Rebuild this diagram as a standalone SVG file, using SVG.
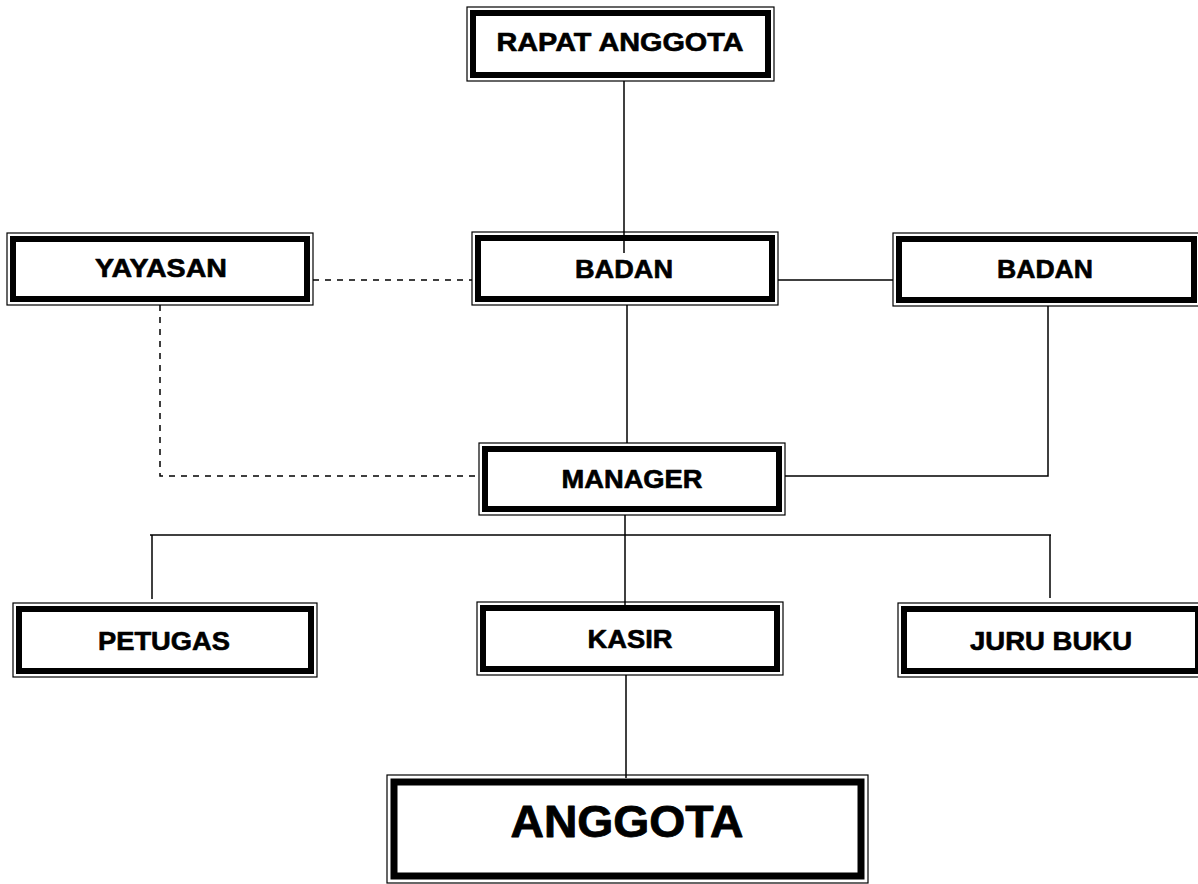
<svg xmlns="http://www.w3.org/2000/svg" width="1198" height="884" viewBox="0 0 1198 884">
<style>
.outer{fill:#fff;stroke:#000;stroke-width:1.2}
.thick{fill:none;stroke:#000;stroke-width:6}
.lbl{font-family:"Liberation Sans",Arial,sans-serif;font-weight:bold;font-size:25px;fill:#000;stroke:#000;stroke-width:0.6;stroke-linejoin:round;text-anchor:middle}
.big{font-size:44px;stroke-width:0.8}
.ln{stroke:#000;stroke-width:1.5;fill:none}
.dash{stroke:#000;stroke-width:1.5;fill:none;stroke-dasharray:6 6}
</style>
<rect width="1198" height="884" fill="#fff"/>
<g id="rapat">
<rect class="outer" x="467" y="7" width="307" height="74"/>
<rect class="thick" x="473" y="13" width="295" height="62"/>
<text class="lbl" x="620" y="51" textLength="247" lengthAdjust="spacingAndGlyphs">RAPAT ANGGOTA</text>
</g>
<g id="yayasan">
<rect class="outer" x="7" y="233" width="306" height="72"/>
<rect class="thick" x="13" y="239" width="294" height="60"/>
<text class="lbl" x="161" y="277" textLength="132" lengthAdjust="spacingAndGlyphs">YAYASAN</text>
</g>
<g id="badan1">
<rect class="outer" x="472" y="232" width="306" height="73"/>
<rect class="thick" x="478" y="238" width="294" height="61"/>
<text class="lbl" x="624" y="278" textLength="98" lengthAdjust="spacingAndGlyphs">BADAN</text>
</g>
<g id="badan2">
<rect class="outer" x="893" y="233" width="307" height="73"/>
<rect class="thick" x="899" y="239" width="295" height="61"/>
<text class="lbl" x="1045" y="278" textLength="96" lengthAdjust="spacingAndGlyphs">BADAN</text>
</g>
<g id="manager">
<rect class="outer" x="479" y="443" width="306" height="72"/>
<rect class="thick" x="485" y="449" width="294" height="60"/>
<text class="lbl" x="632" y="488" textLength="141" lengthAdjust="spacingAndGlyphs">MANAGER</text>
</g>
<g id="petugas">
<rect class="outer" x="13" y="603" width="304" height="74"/>
<rect class="thick" x="19" y="609" width="292" height="62"/>
<text class="lbl" x="164" y="650" textLength="132" lengthAdjust="spacingAndGlyphs">PETUGAS</text>
</g>
<g id="kasir">
<rect class="outer" x="477" y="602" width="306" height="73"/>
<rect class="thick" x="483" y="608" width="294" height="61"/>
<text class="lbl" x="630" y="648" textLength="85" lengthAdjust="spacingAndGlyphs">KASIR</text>
</g>
<g id="jurubuku">
<rect class="outer" x="898" y="603" width="306" height="74"/>
<rect class="thick" x="904" y="609" width="294" height="62"/>
<text class="lbl" x="1051" y="650" textLength="162" lengthAdjust="spacingAndGlyphs">JURU BUKU</text>
</g>
<g id="anggota">
<rect class="outer" x="387" y="775" width="481" height="108"/>
<rect class="thick" x="394" y="782" width="467" height="94" style="stroke-width:7"/>
<text class="lbl big" x="627" y="837" textLength="233" lengthAdjust="spacingAndGlyphs">ANGGOTA</text>
</g>
<g id="connectors">
<line class="ln" x1="624" y1="81" x2="624" y2="253"/>
<line class="dash" x1="313" y1="280" x2="472" y2="280"/>
<polyline class="dash" points="160,305 160,476 479,476"/>
<line class="ln" x1="778" y1="280" x2="893" y2="280"/>
<line class="ln" x1="627" y1="305" x2="627" y2="443"/>
<polyline class="ln" points="1048,306 1048,476 785,476"/>
<line class="ln" x1="625" y1="515" x2="625" y2="605"/>
<line class="ln" x1="150" y1="535" x2="1051" y2="535"/>
<line class="ln" x1="152" y1="535" x2="152" y2="599"/>
<line class="ln" x1="1050" y1="535" x2="1050" y2="598"/>
<line class="ln" x1="626" y1="675" x2="626" y2="778"/>
</g>
</svg>
